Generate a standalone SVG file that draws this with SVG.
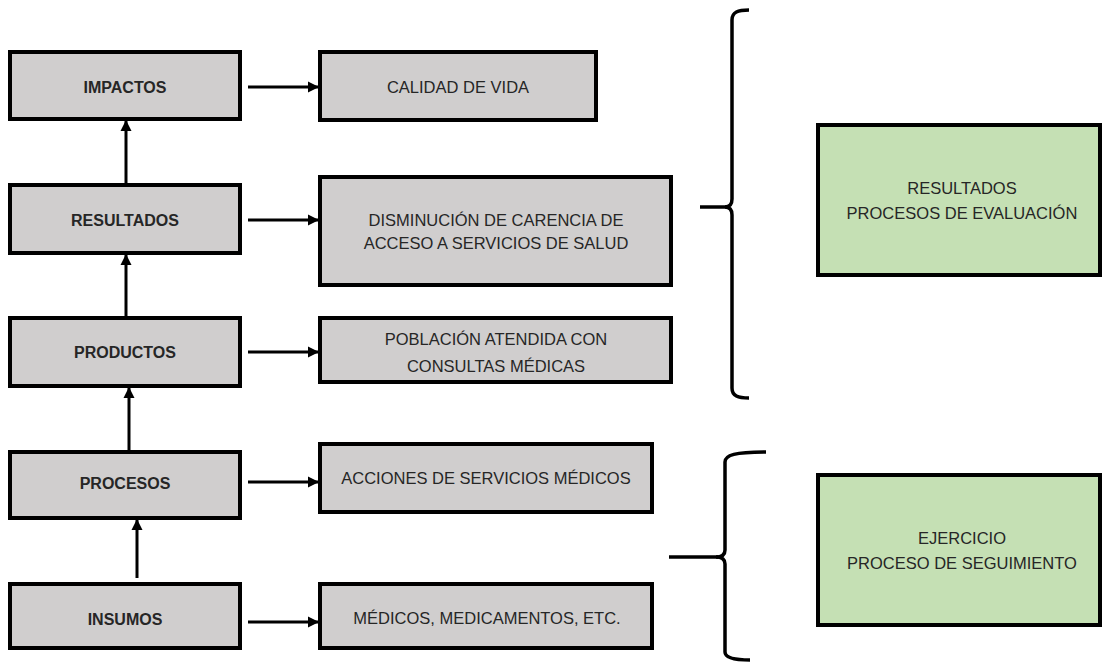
<svg xmlns="http://www.w3.org/2000/svg" width="1104" height="662" viewBox="0 0 1104 662">
<style>
.box{fill:#d0cece;stroke:#000;stroke-width:4}
.green{fill:#c5e0b4;stroke:#000;stroke-width:4}
.lbl{font-family:"Liberation Sans",Arial,sans-serif;font-size:16px;font-weight:bold;fill:#262626;text-anchor:middle;dominant-baseline:central}
.txt{font-family:"Liberation Sans",Arial,sans-serif;font-size:16.5px;fill:#262626;text-anchor:middle;dominant-baseline:central}
.conn{stroke:#000;stroke-width:3;fill:none}
.brace{stroke:#000;stroke-width:3.5;fill:none;stroke-linecap:butt}
</style>
<defs>
<marker id="ah" markerWidth="12" markerHeight="12" refX="10" refY="6" orient="auto" markerUnits="userSpaceOnUse">
<path d="M0,0.5 L11,6 L0,11.5 Z" fill="#000"/>
</marker>
</defs>
<rect width="1104" height="662" fill="#fff"/>
<g id="impactos"><rect class="box" x="10" y="52" width="230" height="67"/><text class="lbl" x="125" y="87">IMPACTOS</text></g>
<g id="resultados"><rect class="box" x="10" y="185" width="230" height="68"/><text class="lbl" x="125" y="220">RESULTADOS</text></g>
<g id="productos"><rect class="box" x="10" y="318" width="230" height="68"/><text class="lbl" x="125" y="352">PRODUCTOS</text></g>
<g id="procesos"><rect class="box" x="10" y="452" width="230" height="66"/><text class="lbl" x="125" y="483">PROCESOS</text></g>
<g id="insumos"><rect class="box" x="10" y="584" width="230" height="64"/><text class="lbl" x="125" y="619">INSUMOS</text></g>
<g id="calidad"><rect class="box" x="320" y="52" width="276" height="68"/><text class="txt" x="458" y="87">CALIDAD DE VIDA</text></g>
<g id="disminucion"><rect class="box" x="320" y="177" width="351" height="108"/><text class="txt" x="496" y="220">DISMINUCIÓN  DE CARENCIA  DE</text><text class="txt" x="496" y="243">ACCESO A SERVICIOS DE SALUD</text></g>
<g id="poblacion"><rect class="box" x="320" y="318" width="351" height="64"/><text class="txt" x="496" y="339">POBLACIÓN ATENDIDA CON</text><text class="txt" x="496" y="366">CONSULTAS MÉDICAS</text></g>
<g id="acciones"><rect class="box" x="320" y="444" width="332" height="68"/><text class="txt" x="486" y="478">ACCIONES DE SERVICIOS MÉDICOS</text></g>
<g id="medicos"><rect class="box" x="320" y="584" width="332" height="64"/><text class="txt" x="487" y="618">MÉDICOS, MEDICAMENTOS,  ETC.</text></g>
<g id="evaluacion"><rect class="green" x="818" y="125" width="282" height="150"/><text class="txt" x="962" y="188">RESULTADOS</text><text class="txt" x="962" y="213">PROCESOS DE EVALUACIÓN</text></g>
<g id="seguimiento"><rect class="green" x="818" y="475" width="282" height="150"/><text class="txt" x="962" y="538">EJERCICIO</text><text class="txt" x="962" y="563">PROCESO DE SEGUIMIENTO</text></g>
<g id="connectors">
<line class="conn" x1="248" y1="87" x2="318" y2="87" marker-end="url(#ah)"/>
<line class="conn" x1="248" y1="220" x2="318" y2="220" marker-end="url(#ah)"/>
<line class="conn" x1="248" y1="352" x2="318" y2="352" marker-end="url(#ah)"/>
<line class="conn" x1="248" y1="482" x2="318" y2="482" marker-end="url(#ah)"/>
<line class="conn" x1="248" y1="622" x2="318" y2="622" marker-end="url(#ah)"/>
<line class="conn" x1="126" y1="183" x2="126" y2="121" marker-end="url(#ah)"/>
<line class="conn" x1="126" y1="316" x2="126" y2="255" marker-end="url(#ah)"/>
<line class="conn" x1="129" y1="450" x2="129" y2="388" marker-end="url(#ah)"/>
<line class="conn" x1="137" y1="578" x2="137" y2="520" marker-end="url(#ah)"/>
</g>
<g id="braces">
<path class="brace" d="M749,10 C738,10 732,12 732,20 V199 C732,204 730,207 725,207 C730,207 732,210 732,215 V388 C732,396 738,398 749,398"/>
<line class="brace" x1="700" y1="207" x2="727" y2="207"/>
<path class="brace" d="M766,452 C735,452 725,455 725,462 V550 C725,555 722,557 716,557 C722,557 725,559 725,564 V652 C725,658 735,660 750,660"/>
<line class="brace" x1="669" y1="557" x2="718" y2="557"/>
</g>
</svg>
